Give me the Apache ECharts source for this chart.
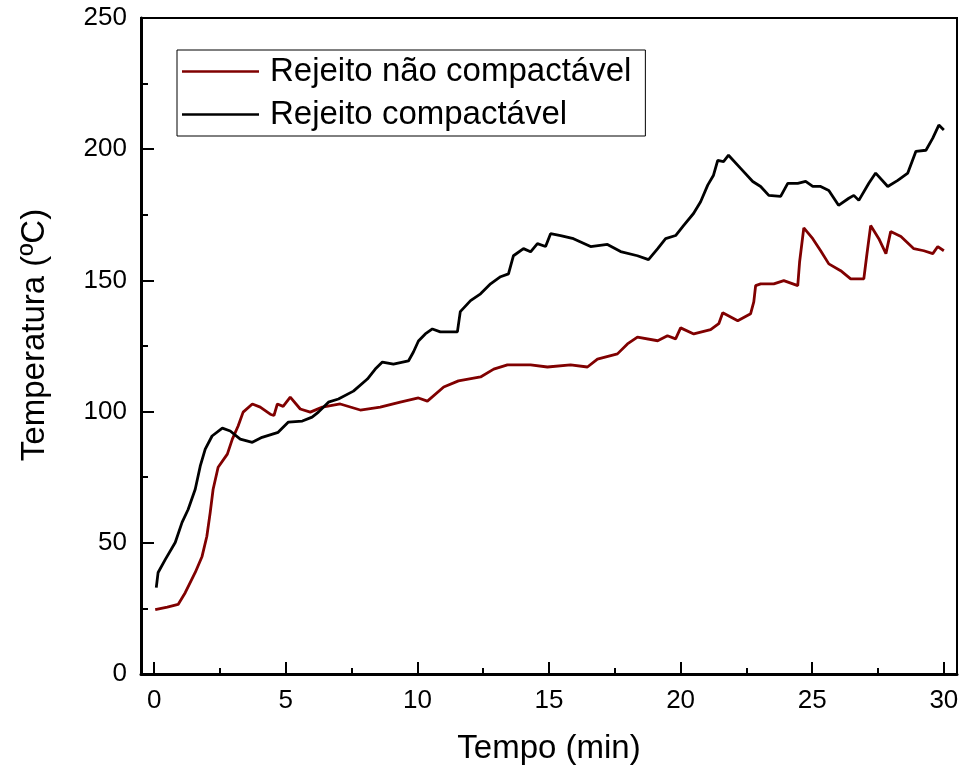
<!DOCTYPE html>
<html>
<head>
<meta charset="utf-8">
<script src="https://cdn.jsdelivr.net/npm/echarts@6/dist/echarts.min.js"></script>
<style>
  html, body { margin: 0; padding: 0; background: #fff; }
  #chart { width: 963px; height: 770px; }
</style>
</head>
<body>
<div id="chart"></div>
<script>
// Temperature readings over time (min, °C)
const tempoNaoCompactavel = [
  0.04, 0.5, 0.91, 1.18, 1.56, 1.82, 2.0, 2.13, 2.24, 2.43, 2.78, 2.97, 3.19, 3.38, 3.73,
  4.03, 4.41, 4.55, 4.68, 4.9, 5.17, 5.55, 5.93, 6.39, 7.07, 7.83, 8.59, 9.35, 10.04, 10.38,
  11.0, 11.56, 12.4, 12.9, 13.42, 14.3, 14.94, 15.82, 16.46, 16.84, 17.6, 17.98, 18.36, 19.13,
  19.5, 19.81, 20.0, 20.5, 21.14, 21.45, 21.6, 22.17, 22.66, 22.78, 22.85, 23.04, 23.54, 23.92,
  24.45, 24.52, 24.68, 25.02, 25.32, 25.63, 26.08, 26.46, 26.96, 27.07, 27.22, 27.53, 27.8,
  27.98, 28.37, 28.86, 29.24, 29.58, 29.77, 30.0
];
const temperaturaNaoCompactavel = [
  24.5, 25.5, 26.5, 31, 38.7, 44.8, 52.4, 61.6, 70.4, 78.8, 83.8, 89.5, 94.5, 99.8, 102.9,
  101.7, 99, 98.5, 102.9, 102, 105.5, 101, 99.8, 101.7, 102.9, 100.6, 101.7, 103.6, 105.2, 104,
  109.4, 111.7, 113.2, 116.2, 117.8, 117.8, 117, 117.8, 117, 120, 122, 125.8, 128.4, 127,
  128.9, 127.7, 131.9, 129.6, 131.2, 133.5, 137.7, 134.6, 137.3, 141.8, 148, 148.7, 148.7, 149.9,
  148, 157, 170, 165.9, 161.3, 156.3, 153.7, 150.6, 150.6, 159.4, 170.9, 165.9, 160.2,
  168.6, 166.7, 162.1, 161.3, 160.2, 162.9, 161.3
];

const tempoCompactavel = [
  0.08, 0.15, 0.42, 0.8, 1.06, 1.29, 1.56, 1.75, 1.94, 2.2, 2.59, 2.89, 3.27, 3.73, 4.1,
  4.71, 5.1, 5.63, 6.0, 6.24, 6.62, 7.0, 7.57, 8.1, 8.4, 8.67, 9.09, 9.66, 9.85, 10.04,
  10.3, 10.57, 10.87, 11.52, 11.63, 12.02, 12.4, 12.78, 13.16, 13.46, 13.65, 14.03, 14.3, 14.56,
  14.87, 15.06, 15.44, 15.93, 16.58, 17.22, 17.72, 18.36, 18.78, 19.13, 19.43, 19.81, 20.11,
  20.49, 20.76, 21.03, 21.25, 21.41, 21.63, 21.82, 22.28, 22.74, 23.04, 23.35, 23.8, 24.07,
  24.45, 24.75, 25.02, 25.32, 25.63, 26.0, 26.39, 26.58, 26.77, 27.15, 27.41, 27.87, 28.25,
  28.63, 28.94, 29.32, 29.58, 29.81, 30.0
];
const temperaturaCompactavel = [
  32.9, 38.7, 43.6, 50.1, 57.8, 62.7, 70.4, 79.2, 85.7, 90.7, 93.7, 92.6, 89.5, 88.3, 90.2,
  92.1, 96, 96.4, 97.9, 99.8, 103.6, 104.8, 107.8, 112.4, 116.2, 118.9, 118.1, 119.3, 122.7, 126.9,
  129.6, 131.5, 130.4, 130.4, 138.1, 142.3, 144.9, 148.7, 151.4, 152.5, 159.4, 162.1, 160.9, 164,
  162.9, 167.8, 167.1, 165.9, 162.9, 163.7, 161, 159.4, 157.9, 162.1, 165.9, 167.1, 170.9,
  175.5, 180, 186.3, 190.1, 195.7, 195.3, 197.7, 192.7, 187.7, 185.8, 182.4, 182, 187,
  187, 187.7, 185.8, 185.8, 184.3, 178.6, 181.3, 182.4, 180.5, 187, 190.9, 185.8, 188.1,
  190.9, 199.2, 199.6, 204.2, 209.2, 207.3
];

// Axis ticks
const xMajorTicks = [0, 5, 10, 15, 20, 25, 30];
const xMinorTicks = [2.5, 7.5, 12.5, 17.5, 22.5, 27.5];
const yMajorTicks = [0, 50, 100, 150, 200, 250];
const yMinorTicks = [25, 75, 125, 175, 225];

const seriesNames = ['Rejeito não compactável', 'Rejeito compactável'];

const zip = (xs, ys) => xs.map((x, i) => [x, ys[i]]);

const FONT = 'Liberation Sans, Arial, sans-serif';
const tickLine = { color: '#000', width: 2 };
const chart = echarts.init(document.getElementById('chart'), null, { renderer: 'canvas' });

chart.setOption({
  animation: false,
  backgroundColor: '#fff',
  grid: {
    left: 141, right: 6, top: 18, bottom: 95,
    show: true, borderColor: '#000', borderWidth: 2, backgroundColor: 'transparent'
  },
  legend: {
    orient: 'vertical',
    left: 177, top: 50,
    padding: [5, 14, 5, 5],
    itemGap: 10,
    itemWidth: 77, itemHeight: 2.5,
    icon: 'rect',
    borderColor: '#000', borderWidth: 1,
    textStyle: { fontFamily: FONT, fontSize: 33, color: '#000', lineHeight: 33, padding: [0, 0, 0, 6] },
    data: seriesNames
  },
  xAxis: [
    {
      type: 'value', min: -0.5, max: 30.5, position: 'bottom',
      name: 'Tempo (min)', nameLocation: 'middle', nameGap: 58,
      nameTextStyle: { fontFamily: FONT, fontSize: 33, color: '#000' },
      axisLine: { show: true, onZero: false, lineStyle: { color: '#000', width: 3 } },
      axisTick: { show: true, inside: true, length: 12, customValues: xMajorTicks, lineStyle: tickLine },
      axisLabel: { customValues: xMajorTicks, margin: 14, fontFamily: FONT, fontSize: 26, color: '#000' },
      splitLine: { show: false }
    },
    {
      type: 'value', min: -0.5, max: 30.5, position: 'bottom', offset: 0,
      axisLine: { show: false, onZero: false },
      axisTick: { show: true, inside: true, length: 6, customValues: xMinorTicks, lineStyle: tickLine },
      axisLabel: { show: false },
      splitLine: { show: false }
    }
  ],
  yAxis: [
    {
      type: 'value', min: 0, max: 250, position: 'left',
      name: 'Temperatura (ºC)', nameLocation: 'middle', nameGap: 90,
      nameTextStyle: { fontFamily: FONT, fontSize: 33, color: '#000', padding: [0, 0, 0, 22] },
      axisLine: { show: true, onZero: false, lineStyle: { color: '#000', width: 3 } },
      axisTick: { show: true, inside: true, length: 13, customValues: yMajorTicks, lineStyle: tickLine },
      axisLabel: { customValues: yMajorTicks, margin: 14, fontFamily: FONT, fontSize: 26, color: '#000' },
      splitLine: { show: false }
    },
    {
      type: 'value', min: 0, max: 250, position: 'left', offset: 0,
      axisLine: { show: false, onZero: false },
      axisTick: { show: true, inside: true, length: 7, customValues: yMinorTicks, lineStyle: tickLine },
      axisLabel: { show: false },
      splitLine: { show: false }
    }
  ],
  series: [
    {
      name: seriesNames[0], type: 'line', xAxisIndex: 0, yAxisIndex: 0,
      data: zip(tempoNaoCompactavel, temperaturaNaoCompactavel),
      showSymbol: false, symbol: 'none',
      lineStyle: { color: '#800000', width: 2.8 },
      itemStyle: { color: '#800000' }
    },
    {
      name: seriesNames[1], type: 'line', xAxisIndex: 0, yAxisIndex: 0,
      data: zip(tempoCompactavel, temperaturaCompactavel),
      showSymbol: false, symbol: 'none',
      lineStyle: { color: '#000', width: 2.8 },
      itemStyle: { color: '#000' }
    }
  ]
});
</script>
</body>
</html>
